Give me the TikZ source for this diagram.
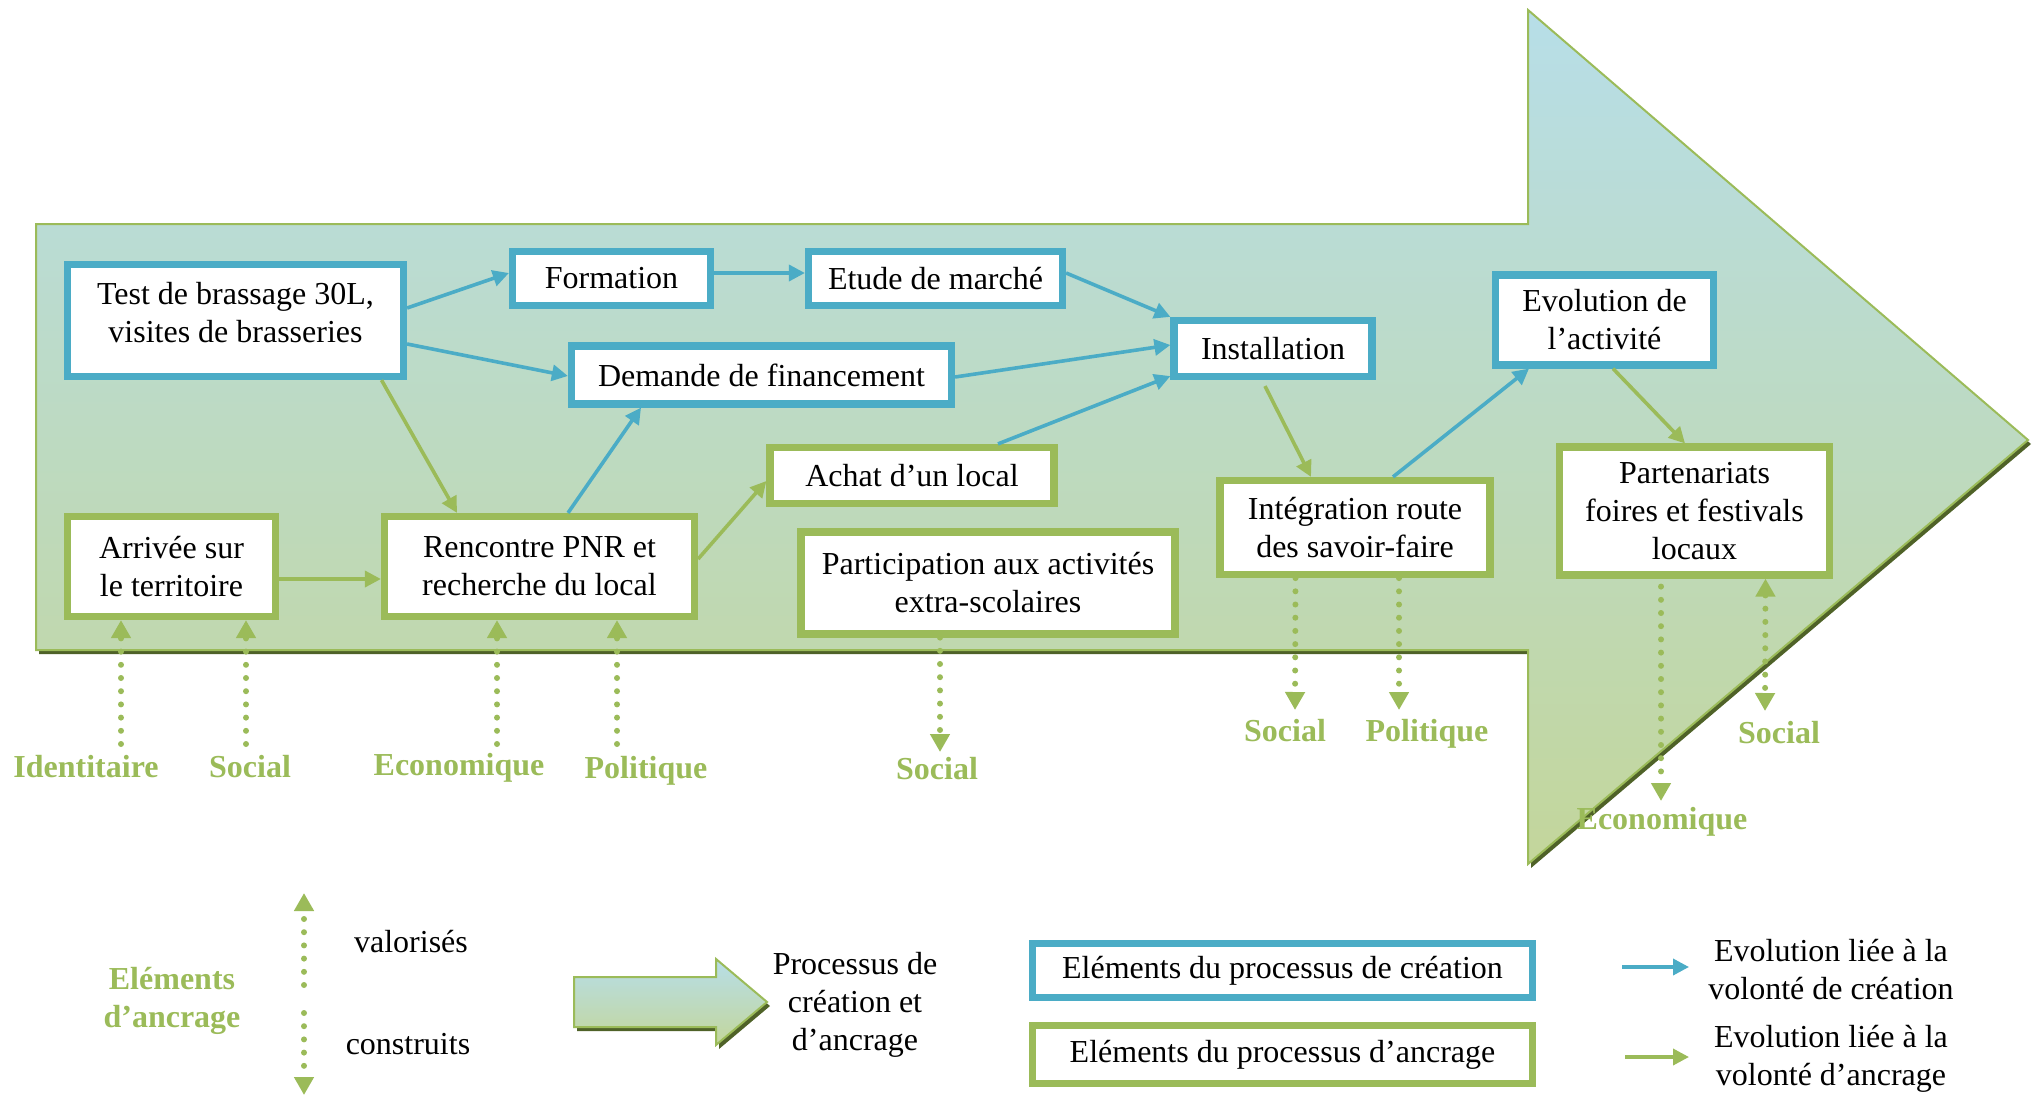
\documentclass[tikz,border=0pt]{standalone}
\usepackage{fontspec}
\setmainfont{Liberation Serif}
\usetikzlibrary{arrows.meta}
\definecolor{cblue}{HTML}{4BACC6}
\definecolor{cgreen}{HTML}{9BBB59}
\definecolor{cdark}{HTML}{4F6228}
\definecolor{ctop}{HTML}{B7DEE8}
\definecolor{cbot}{HTML}{C3D69B}
\newcommand\myfs{\fontsize{16}{19}\selectfont}
\tikzset{
  bbox/.style={draw=cblue, line width=3.6pt, fill=white, inner sep=0pt, align=center, font=\myfs},
  gbox/.style={draw=cgreen, line width=3.6pt, fill=white, inner sep=0pt, align=center, font=\myfs},
  barrow/.style={draw=cblue, line width=1.8pt, -{Triangle[length=8pt,width=8pt]}},
  garrow/.style={draw=cgreen, line width=1.8pt, -{Triangle[length=8pt,width=8pt]}},
  dotarr/.style={draw=cgreen, line width=3pt, line cap=round, dash pattern=on 0pt off 6.6pt, -{Triangle[length=9pt,width=9.5pt]}},
  dotarr2/.style={draw=cgreen, line width=3pt, line cap=round, dash pattern=on 0pt off 6.6pt, {Triangle[length=9pt,width=9.5pt]}-{Triangle[length=9pt,width=9.5pt]}},
  lbl/.style={text=cgreen, font=\myfs\bfseries, inner sep=0pt, align=center},
  txt/.style={font=\myfs, inner sep=0pt, align=center},
}
\begin{document}
\begin{tikzpicture}[x=0.5pt, y=-0.5pt]
\useasboundingbox (0,0) rectangle (2038,1097);
% big arrow
\fill[cdark, shift={(3,4)}] (36,224) -- (1528,224) -- (1528,10) -- (2028,440) -- (1528,864) -- (1528,650) -- (36,650) -- cycle;
\shade[top color=ctop, bottom color=cbot] (36,224) -- (1528,224) -- (1528,10) -- (2028,440) -- (1528,864) -- (1528,650) -- (36,650) -- cycle;
\draw[cgreen, line width=1pt, line join=miter] (36,224) -- (1528,224) -- (1528,10) -- (2028,440) -- (1528,864) -- (1528,650) -- (36,650) -- cycle;

% boxes
\node[bbox, minimum width=168pt, minimum height=56pt] (test) at (235.5,320.5) {Test de brassage 30L,\\visites de brasseries\\[-11pt]\mbox{}};
\node[bbox, minimum width=99pt, minimum height=27pt] (form) at (611.5,278.5) {Formation};
\node[bbox, minimum width=127pt, minimum height=27pt] (etude) at (935.5,278.5) {Etude de marché};
\node[bbox, minimum width=190pt, minimum height=29pt] (dem) at (761.5,375) {Demande de financement};
\node[bbox, minimum width=99pt, minimum height=28pt] (inst) at (1273,348.5) {Installation};
\node[bbox, minimum width=109pt, minimum height=45pt] (evol) at (1604.5,320) {Evolution de\\l’activité};
\node[gbox, minimum width=104pt, minimum height=50pt] (arr) at (171.5,566.5) {Arrivée sur\\le territoire};
\node[gbox, minimum width=155pt, minimum height=50pt] (renc) at (539.5,566.5) {Rencontre PNR et\\recherche du local};
\node[gbox, minimum width=142pt, minimum height=28pt] (achat) at (912,475.5) {Achat d’un local};
\node[gbox, minimum width=187pt, minimum height=51pt] (part) at (988,583) {Participation aux activités\\extra-scolaires};
\node[gbox, minimum width=135pt, minimum height=47pt] (integ) at (1355,527.5) {Intégration route\\des savoir-faire};
\node[gbox, minimum width=135pt, minimum height=64pt] (partn) at (1694.5,511) {Partenariats\\foires et festivals\\locaux};

% blue connectors
\draw[barrow] ([yshift=6.25pt]test.east) -- ([yshift=2.75pt]form.west);
\draw[barrow] ([yshift=-11.75pt]test.east) -- ([yshift=-0.5pt]dem.west);
\draw[barrow] ([yshift=2.75pt]form.east) -- ([yshift=2.75pt]etude.west);
\draw[barrow] ([yshift=2.75pt]etude.east) -- (inst.north west);
\draw[barrow] ([yshift=-1pt]dem.east) -- ([yshift=1.75pt]inst.west);
\draw[barrow] ([xshift=43pt]achat.north) -- ([yshift=2pt]inst.south west);
\draw[barrow] ([xshift=14.25pt]renc.north) -- ([xshift=-60.25pt]dem.south);
\draw[barrow] ([xshift=19pt]integ.north) -- ([xshift=-37.75pt]evol.south);

% green connectors
\draw[garrow] ([xshift=73pt]test.south) -- ([xshift=-41.25pt]renc.north);
\draw[garrow] ([yshift=-6.25pt]arr.east) -- ([yshift=-6.25pt]renc.west);
\draw[garrow] ([yshift=3.75pt]renc.east) -- ([yshift=-2.75pt]achat.west);
\draw[garrow] ([xshift=-4pt,yshift=-3pt]inst.south) -- ([xshift=-22pt]integ.north);
\draw[garrow] ([xshift=4.25pt]evol.south) -- ([xshift=-4.75pt]partn.north);

% dotted anchoring arrows
\coordinate (d1) at (121,744);
\coordinate (d2) at (246,744);
\coordinate (d3) at (497,744);
\coordinate (d4) at (617,744);
\coordinate (d5) at (940,752);
\coordinate (d6) at (1295,710);
\coordinate (d7) at (1399,710);
\coordinate (d8) at (1661,801);
\coordinate (d9) at (1765,711);
\draw[dotarr] (d1) -- ([xshift=-25.25pt]arr.south);
\draw[dotarr] (d2) -- ([xshift=37.25pt]arr.south);
\draw[dotarr] (d3) -- ([xshift=-21.25pt]renc.south);
\draw[dotarr] (d4) -- ([xshift=38.75pt]renc.south);
\draw[dotarr] ([xshift=-24pt]part.south) -- (d5);
\draw[dotarr] ([xshift=-29.75pt]integ.south) -- (d6);
\draw[dotarr] ([xshift=22pt]integ.south) -- (d7);
\draw[dotarr] ([xshift=-16.75pt,yshift=-4pt]partn.south) -- (d8);
\draw[dotarr2] ([xshift=35.5pt]partn.south) -- (d9);

% labels
\node[lbl] (l1) at (86,767) {Identitaire};
\node[lbl] (l2) at (250,767) {Social};
\node[lbl] (l3) at (459,768) {Economique};
\node[lbl] (l4) at (646,771) {Politique};
\node[lbl] (l5) at (937,769) {Social};
\node[lbl] (l6) at (1285,731) {Social};
\node[lbl] (l7) at (1427,734) {Politique};
\node[lbl] (l8) at (1662,822) {Economique};
\node[lbl] (l9) at (1779,733) {Social};

% legend
\node[lbl] (lanc) at (172,1001) {Eléments\\d’ancrage};
\coordinate (v1) at (304,985);
\coordinate (v2) at (304,893);
\coordinate (c1) at (304,1013);
\coordinate (c2) at (304,1095);
\draw[dotarr] (v1) -- (v2);
\draw[dotarr] (c1) -- (c2);
\node[txt] (lval) at (411,942) {valorisés};
\node[txt] (lcons) at (408,1044) {construits};

\fill[cdark, shift={(3,4)}] (574,977) -- (716,977) -- (716,959) -- (767,1002) -- (716,1045) -- (716,1027) -- (574,1027) -- cycle;
\shade[top color=ctop, bottom color=cbot] (574,977) -- (716,977) -- (716,959) -- (767,1002) -- (716,1045) -- (716,1027) -- (574,1027) -- cycle;
\draw[cgreen, line width=1pt] (574,977) -- (716,977) -- (716,959) -- (767,1002) -- (716,1045) -- (716,1027) -- (574,1027) -- cycle;
\node[txt] (lproc) at (855,1005) {Processus de\\création et\\d’ancrage};

\node[bbox, minimum width=250pt, minimum height=27pt] (legc) at (1282.5,970.5) {Eléments du processus de création};
\node[gbox, minimum width=250pt, minimum height=29pt] (lega) at (1282.5,1054.5) {Eléments du processus d’ancrage};

\coordinate (la1) at (1622,967);
\coordinate (la2) at (1689,967);
\coordinate (lb1) at (1625,1057);
\coordinate (lb2) at (1689,1057);
\draw[barrow] (la1) -- (la2);
\draw[garrow] (lb1) -- (lb2);
\node[txt] (lec) at (1831,970) {Evolution liée à la\\volonté de création};
\node[txt] (lea) at (1831,1059) {Evolution liée à la\\volonté d’ancrage};
\end{tikzpicture}
\end{document}
